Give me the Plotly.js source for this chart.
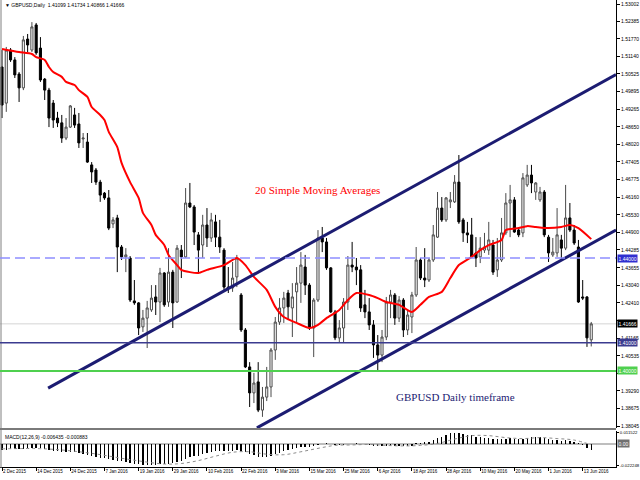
<!DOCTYPE html>
<html><head><meta charset="utf-8">
<script src="https://cdn.plot.ly/plotly-3.0.1.min.js"></script>
<style>html,body{margin:0;padding:0;background:#fff}#chart{width:640px;height:480px}</style>
</head><body><div id="chart"></div>
<script>
// ---- data ----
const dateLabels = ['2 Dec 2015','14 Dec 2015','24 Dec 2015','7 Jan 2016','19 Jan 2016','29 Jan 2016','10 Feb 2016','22 Feb 2016','3 Mar 2016','15 Mar 2016','25 Mar 2016','6 Apr 2016','18 Apr 2016','28 Apr 2016','10 May 2016','20 May 2016','1 Jun 2016','13 Jun 2016'];
const dateLabelBars = [0,8,16,24,32,40,48,56,64,72,80,88,96,104,112,120,128,136];

const open = [1.5077,1.4949,1.5137,1.5102,1.5052,1.5003,1.5176,1.5137,1.5226,1.5144,1.5034,1.4995,1.4949,1.4896,1.4879,1.4825,1.4864,1.4907,1.4875,1.4822,
1.4811,1.4730,1.4712,1.4669,1.4630,1.4613,1.4521,1.4542,1.4439,1.4404,1.4400,1.4248,1.4241,1.4156,1.4187,1.4216,1.4262,1.4244,1.4347,1.4244,
1.4350,1.4244,1.4428,1.4404,1.4595,1.4581,1.4482,1.4446,1.4517,1.4471,1.4528,1.4474,1.4428,1.4297,1.4294,1.4333,1.4269,1.4145,1.4014,1.3922,
1.3961,1.3861,1.3907,1.3943,1.4074,1.4173,1.4223,1.4276,1.4223,1.4280,1.4311,1.4368,1.4304,1.4152,1.4251,1.4471,1.4457,1.4365,1.4209,1.4117,
1.4152,1.4244,1.4375,1.4368,1.4358,1.4234,1.4209,1.4163,1.4092,1.4056,1.4120,1.4244,1.4269,1.4187,1.4251,1.4145,1.4191,1.4269,1.4393,1.4329,
1.4322,1.4393,1.4474,1.4577,1.4535,1.4599,1.4599,1.4669,1.4535,1.4489,1.4482,1.4418,1.4404,1.4428,1.4428,1.4446,1.4358,1.4393,1.4489,1.4595,
1.4606,1.4499,1.4489,1.4659,1.4694,1.4634,1.4606,1.4634,1.4474,1.4411,1.4418,1.4464,1.4435,1.4542,1.4499,1.4439,1.4262,1.4262,1.41099];
const high = [1.5137,1.5148,1.5144,1.5112,1.5059,1.5187,1.5194,1.5236,1.5233,1.5183,1.5038,1.5003,1.4960,1.4918,1.4907,1.4896,1.4942,1.4932,1.4914,1.4843,
1.4843,1.4740,1.4719,1.4677,1.4634,1.4641,1.4545,1.4553,1.4446,1.4435,1.4407,1.4322,1.4244,1.4216,1.4248,1.4304,1.4304,1.4365,1.4350,1.4435,
1.4358,1.4446,1.4446,1.4648,1.4666,1.4588,1.4492,1.4553,1.4577,1.4560,1.4553,1.4535,1.4435,1.4368,1.4386,1.4411,1.4276,1.4152,1.4031,1.3993,
1.4031,1.3943,1.4014,1.4081,1.4191,1.4258,1.4280,1.4287,1.4311,1.4368,1.4421,1.4411,1.4311,1.4258,1.4499,1.4510,1.4471,1.4368,1.4216,1.4180,
1.4258,1.4407,1.4457,1.4400,1.4375,1.4287,1.4258,1.4180,1.4127,1.4145,1.4262,1.4287,1.4276,1.4265,1.4258,1.4216,1.4280,1.4439,1.4400,1.4435,
1.4400,1.4517,1.4634,1.4616,1.4616,1.4634,1.4694,1.4765,1.4542,1.4528,1.4542,1.4474,1.4474,1.4489,1.4528,1.4464,1.4471,1.4542,1.4630,1.4659,
1.4616,1.4506,1.4701,1.4730,1.4730,1.4669,1.4652,1.4641,1.4482,1.4471,1.4577,1.4482,1.4659,1.4595,1.4517,1.4464,1.4322,1.4265,1.41734];
const low = [1.4896,1.4918,1.5095,1.5038,1.4953,1.4995,1.5130,1.5130,1.5120,1.5024,1.4960,1.4864,1.4861,1.4864,1.4808,1.4818,1.4861,1.4861,1.4790,1.4790,
1.4737,1.4666,1.4659,1.4599,1.4606,1.4499,1.4506,1.4350,1.4393,1.4350,1.4244,1.4234,1.4127,1.4138,1.4081,1.4209,1.4198,1.4173,1.4227,1.4227,
1.4152,1.4241,1.4329,1.4400,1.4577,1.4446,1.4347,1.4400,1.4439,1.4457,1.4439,1.4418,1.4287,1.4276,1.4280,1.4297,1.4138,1.4010,1.3872,1.3886,
1.3854,1.3837,1.3893,1.3907,1.4039,1.4163,1.4170,1.4180,1.4120,1.4170,1.4241,1.4269,1.4145,1.4049,1.4244,1.4421,1.4358,1.4205,1.4109,1.4102,
1.4102,1.4216,1.4350,1.4304,1.4209,1.4187,1.4145,1.4046,1.4003,1.4031,1.4109,1.4187,1.4163,1.4173,1.4120,1.4127,1.4134,1.4262,1.4322,1.4297,
1.4315,1.4386,1.4471,1.4528,1.4528,1.4577,1.4595,1.4521,1.4457,1.4453,1.4400,1.4368,1.4382,1.4418,1.4411,1.4340,1.4333,1.4386,1.4482,1.4474,
1.4489,1.4474,1.4474,1.4652,1.4630,1.4606,1.4599,1.4474,1.4386,1.4404,1.4404,1.4393,1.4428,1.4492,1.4446,1.4241,1.4251,1.4085,1.40866];
const close = [1.4942,1.5137,1.5102,1.5049,1.5003,1.5173,1.5155,1.5219,1.5127,1.5031,1.4995,1.4896,1.4889,1.4879,1.4825,1.4864,1.4939,1.4871,1.4808,1.4825,
1.4740,1.4705,1.4669,1.4623,1.4613,1.4506,1.4535,1.4439,1.4404,1.4411,1.4251,1.4241,1.4152,1.4187,1.4223,1.4258,1.4244,1.4347,1.4234,1.4350,
1.4241,1.4435,1.4404,1.4595,1.4581,1.4492,1.4428,1.4517,1.4471,1.4535,1.4474,1.4439,1.4297,1.4294,1.4329,1.4400,1.4145,1.4014,1.3922,1.3957,
1.3861,1.3907,1.3943,1.4074,1.4173,1.4223,1.4258,1.4227,1.4262,1.4311,1.4375,1.4304,1.4152,1.4251,1.4471,1.4457,1.4365,1.4209,1.4117,1.4152,
1.4244,1.4375,1.4368,1.4358,1.4223,1.4209,1.4163,1.4092,1.4056,1.4120,1.4244,1.4269,1.4187,1.4251,1.4145,1.4198,1.4269,1.4393,1.4329,1.4322,
1.4393,1.4482,1.4577,1.4535,1.4613,1.4606,1.4669,1.4528,1.4489,1.4482,1.4404,1.4400,1.4435,1.4439,1.4464,1.4350,1.4393,1.4489,1.4595,1.4606,
1.4492,1.4482,1.4684,1.4694,1.4666,1.4666,1.4634,1.4482,1.4418,1.4421,1.4482,1.4435,1.4542,1.4499,1.4453,1.4244,1.4258,1.4117,1.41666];

// 20-period simple moving average as drawn (bar index, value)
const maBars = [0,4,7,8,10,11,12,14,15,17,18,20,21,23,24,25,27,28,30,32,33,35,36,38,39,41,42,44,46,48,52,55,57,59,62,64,66,69,72,74,76,79,81,83,86,88,90,93,96,98,100,103,105,107,110,112,114,117,118,121,123,125,128,131,133,135,138];
const maValues = [1.5141,1.5130,1.5123,1.5112,1.5102,1.5077,1.5059,1.5042,1.5024,1.5013,1.4995,1.4971,1.4935,1.4907,1.4889,1.4847,1.4793,1.4737,1.4669,1.4613,1.4560,1.4517,1.4482,1.4446,1.4411,1.4375,1.4358,1.4350,1.4347,1.4358,1.4375,1.4400,1.4375,1.4333,1.4287,1.4227,1.4191,1.4170,1.4152,1.4163,1.4187,1.4216,1.4251,1.4276,1.4269,1.4258,1.4244,1.4234,1.4209,1.4234,1.4262,1.4280,1.4329,1.4375,1.4404,1.4428,1.4446,1.4464,1.4499,1.4506,1.4513,1.4510,1.4506,1.4510,1.4517,1.4506,1.4467];

// MACD(12,26,9) main line (histogram) per bar
const macd = [-0.006,-0.006,-0.0055,-0.0055,-0.0055,-0.005,-0.0045,-0.004,-0.004,-0.0045,-0.005,-0.006,-0.007,-0.0075,-0.0085,-0.0085,-0.008,-0.0085,-0.0095,-0.010,
-0.011,-0.012,-0.013,-0.014,-0.0145,-0.0155,-0.016,-0.017,-0.0175,-0.018,-0.0195,-0.020,-0.021,-0.0215,-0.022,-0.022,-0.0215,-0.021,-0.021,-0.020,
-0.0195,-0.018,-0.017,-0.015,-0.0135,-0.0125,-0.012,-0.0105,-0.0095,-0.0085,-0.0075,-0.007,-0.0075,-0.0075,-0.007,-0.006,-0.007,-0.0085,-0.0105,-0.0115,
-0.013,-0.0135,-0.013,-0.012,-0.0105,-0.009,-0.0075,-0.0065,-0.0055,-0.0045,-0.0035,-0.003,-0.003,-0.0025,-0.001,0.0003,0.0005,0.0002,-0.001,-0.0015,
-0.0015,-0.0005,0.0003,0.0005,0.0002,-0.0005,-0.001,-0.002,-0.0025,-0.0025,-0.002,-0.002,-0.002,-0.002,-0.0025,-0.0025,-0.002,0.0005,0.001,0.0015,
0.0025,0.004,0.006,0.0075,0.0095,0.011,0.0115,0.0113,0.0105,0.0095,0.009,0.0075,0.007,0.0065,0.006,0.0055,0.005,0.005,0.0055,0.006,
0.0055,0.005,0.0055,0.0065,0.007,0.007,0.007,0.006,0.005,0.0045,0.004,0.0035,0.004,0.0035,0.0025,0.0005,-0.0015,-0.004,-0.006435];
// MACD signal line (bar index, value)
const sigBars = [0,10,20,30,38,42,46,50,54,58,62,66,70,74,78,82,86,90,94,98,102,106,110,114,118,122,126,130,134,138];
const sigValues = [-0.005,-0.005,-0.009,-0.016,-0.0205,-0.020,-0.017,-0.0125,-0.0085,-0.008,-0.0105,-0.011,-0.008,-0.0045,-0.0015,-0.001,-0.0005,-0.0015,-0.002,-0.0015,0.0005,0.005,0.0085,0.0085,0.0065,0.0055,0.0065,0.0055,0.004,-0.000883];

// price-axis tick labels (1.41780 and 1.39905 sit under the level boxes in the reference)
const priceTicks = [1.53002,1.52385,1.51770,1.51140,1.50525,1.49895,1.49265,1.48650,1.48020,1.47405,1.46775,1.46160,1.45530,1.44900,1.44285,1.43655,1.43040,1.42410,1.41780,1.41165,1.40535,1.39905,1.39290,1.38675,1.38045];
const hiddenTicks = [1.41780,1.39905];
const macdTicks = [0.011522,-0.022248];

// drawn objects: channel lines (bar, price) and horizontal levels
const channelUpperBars = [10.8,143.8], channelUpperPrices = [1.3939,1.5050];
const channelLowerBars = [59.7,143.8], channelLowerPrices = [1.3798,1.4499];
const levelDashed = 1.44000, levelSupport = 1.41000, levelGreen = 1.40000, bidPrice = 1.41666;

// ---- chart ----
const bars = open.map((_, i) => i);
const xRange = [-0.47, 143.8];
const pw = 640, ph = 480;
const px = x => x / pw, py = y => 1 - y / ph;
const axisX = 616;

const traces = [
  {type:'candlestick', x:bars, open:open, high:high, low:low, close:close, xaxis:'x', yaxis:'y',
   increasing:{line:{color:'#4a4a4a', width:1}, fillcolor:'#ffffff'},
   decreasing:{line:{color:'#000000', width:1}, fillcolor:'#000000'},
   whiskerwidth:0, hoverinfo:'skip'},
  {type:'scatter', mode:'lines', x:maBars, y:maValues, xaxis:'x', yaxis:'y', line:{color:'#ff0000', width:2, shape:'spline', smoothing:0.6}, hoverinfo:'skip'},
  {type:'scatter', mode:'lines', x:channelUpperBars, y:channelUpperPrices, xaxis:'x', yaxis:'y', line:{color:'#1c1c72', width:3}, hoverinfo:'skip'},
  {type:'scatter', mode:'lines', x:channelLowerBars, y:channelLowerPrices, xaxis:'x', yaxis:'y', line:{color:'#1c1c72', width:3}, hoverinfo:'skip'},
  {type:'bar', x:bars, y:macd, xaxis:'x', yaxis:'y2', marker:{color:'#000000', line:{width:0}}, width:0.32, hoverinfo:'skip'},
  {type:'scatter', mode:'lines', x:sigBars, y:sigValues, xaxis:'x', yaxis:'y2', line:{color:'#8c8c8c', width:1, dash:'dot', shape:'spline'}, hoverinfo:'skip'}
];

const font = 'Liberation Sans, Arial, DejaVu Sans, sans-serif';
const box = (y, text, bg, yref) => ({xref:'paper', yref:yref||'y', x:px(axisX+1), y:y, xanchor:'left', yanchor:'middle',
  text:text, showarrow:false, bgcolor:bg, font:{family:font, size:5, color:'#ffffff'}, borderpad:0.5});

const layout = {
  width:pw, height:ph, margin:{l:0, r:0, t:0, b:0},
  paper_bgcolor:'#ffffff', plot_bgcolor:'#ffffff', showlegend:false, hovermode:false, bargap:0,
  xaxis:{domain:[0, px(axisX)], range:xRange, anchor:'y2', showgrid:false, zeroline:false,
    showline:true, linecolor:'#000000', linewidth:1, ticks:'outside', ticklen:3, tickcolor:'#000000',
    tickvals:dateLabelBars, ticktext:dateLabels, tickangle:0, tickfont:{family:font, size:4.5, color:'#000000'},
    ticklabelposition:'outside right', rangeslider:{visible:false}, fixedrange:true},
  yaxis:{domain:[py(428), 1], range:[1.53144-0.0003544*428, 1.53144], side:'right', anchor:'x',
    showgrid:false, zeroline:false, showline:true, linecolor:'#000000', linewidth:1,
    ticks:'outside', ticklen:3, tickcolor:'#000000', tickvals:priceTicks,
    ticktext:priceTicks.map(v => hiddenTicks.includes(v) ? '' : v.toFixed(5)),
    tickfont:{family:font, size:5, color:'#000000'}, fixedrange:true},
  yaxis2:{domain:[py(467), py(431)], range:[-0.023578, 0.013261], side:'right', anchor:'x',
    showgrid:false, zeroline:false, showline:true, linecolor:'#000000', linewidth:1,
    ticks:'outside', ticklen:2, tickcolor:'#000000', tickvals:macdTicks, ticktext:macdTicks.map(v=>v.toFixed(6)),
    ticklabelstandoff:0, tickfont:{family:font, size:4.3, color:'#000000'}, fixedrange:true},
  shapes:[
    {type:'line', xref:'paper', yref:'paper', x0:px(1), x1:px(1), y0:py(468), y1:1, line:{color:'#808080', width:1}},
    {type:'line', xref:'paper', yref:'paper', x0:0, x1:px(axisX), y0:py(429), y1:py(429), line:{color:'#7a7a7a', width:2}},
    {type:'line', xref:'paper', yref:'y', x0:0, x1:px(axisX), y0:bidPrice, y1:bidPrice, line:{color:'#d4d4d4', width:1}, layer:'below'},
    {type:'line', xref:'paper', yref:'y', x0:0, x1:px(axisX), y0:levelDashed, y1:levelDashed, line:{color:'#8f8fff', width:1.3, dash:'10px,5px'}},
    {type:'line', xref:'paper', yref:'y', x0:0, x1:px(axisX), y0:levelSupport, y1:levelSupport, line:{color:'#3b3b8f', width:1.5}},
    {type:'line', xref:'paper', yref:'y', x0:0, x1:px(axisX), y0:levelGreen, y1:levelGreen, line:{color:'#4fd04f', width:2}},
    {type:'line', xref:'paper', yref:'y2', x0:0, x1:px(axisX), y0:0, y1:0, line:{color:'#a8a8a8', width:1.5}, layer:'below'}
  ],
  annotations:[
    {xref:'paper', yref:'paper', x:px(3), y:py(5), xanchor:'left', yanchor:'middle', showarrow:false,
     text:'\u25BC GBPUSD,Daily  1.41099 1.41734 1.40866 1.41666', font:{family:font, size:5, color:'#000000'}},
    {xref:'paper', yref:'paper', x:px(3), y:py(437), xanchor:'left', yanchor:'middle', showarrow:false,
     text:'MACD(12,26,9) -0.006435 -0.000883', font:{family:font, size:5, color:'#000000'}},
    {xref:'paper', yref:'paper', x:px(317), y:py(190), xanchor:'center', yanchor:'middle', showarrow:false,
     text:'20 Simple Moving Averages', font:{family:'Liberation Serif, Times New Roman, serif', size:11, color:'#ff0000'}},
    {xref:'paper', yref:'paper', x:px(455), y:py(397), xanchor:'center', yanchor:'middle', showarrow:false,
     text:'GBPUSD Daily timeframe', font:{family:'Liberation Serif, Times New Roman, serif', size:11, color:'#1c1c72'}},
    box(levelDashed, levelDashed.toFixed(5), '#2f2fd0'),
    box(bidPrice, bidPrice.toFixed(5), '#000000'),
    box(levelSupport, levelSupport.toFixed(5), '#3b3b8f'),
    box(levelGreen, levelGreen.toFixed(5), '#4fd04f'),
    box(0, '0.00', '#707070', 'y2')
  ]
};

Plotly.newPlot('chart', traces, layout, {staticPlot:true, displayModeBar:false});
</script></body></html>
